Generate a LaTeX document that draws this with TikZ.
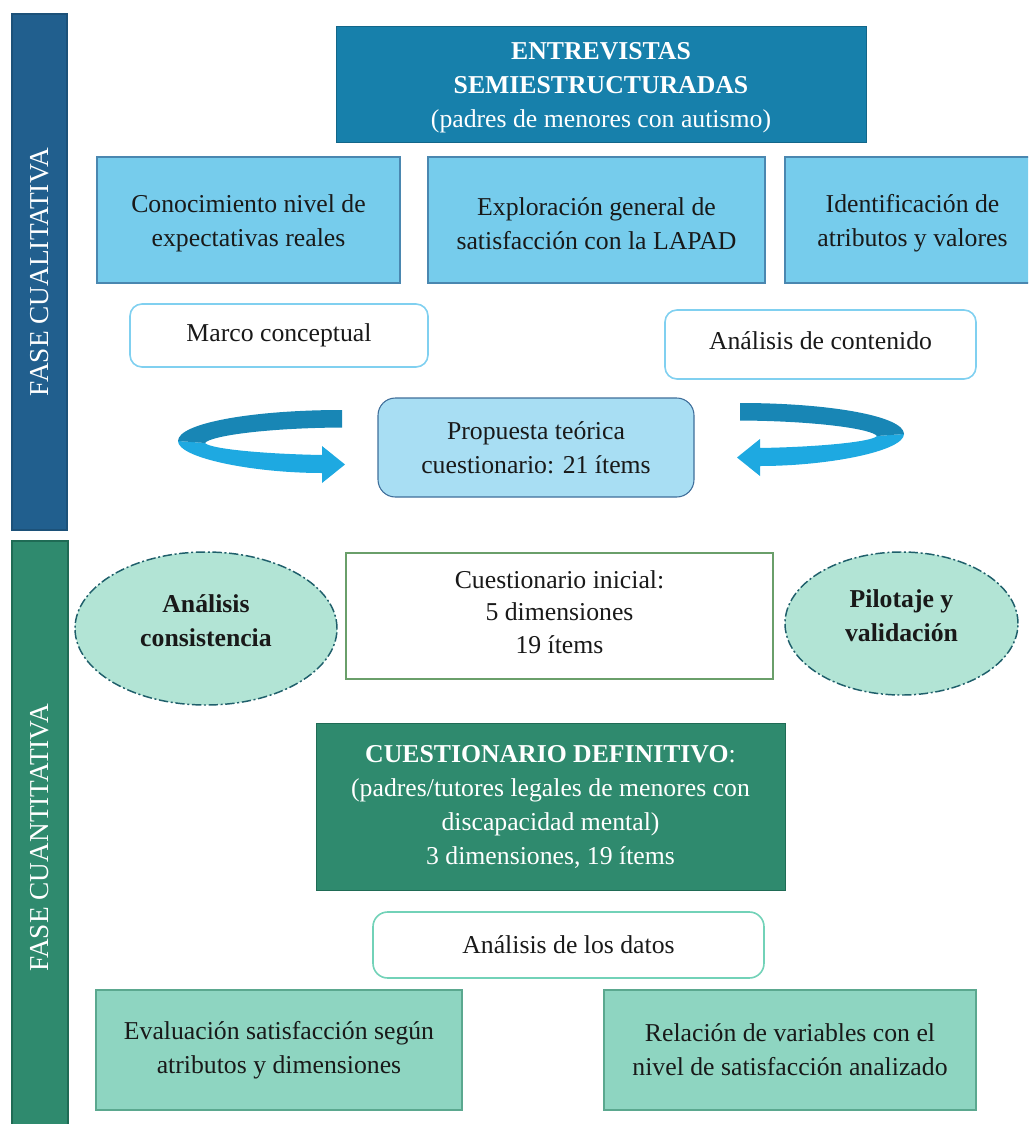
\documentclass[tikz,border=0pt]{standalone}
\usepackage{fontspec}
\setmainfont{Liberation Serif}
\usetikzlibrary{shapes.geometric}
\definecolor{barblue}{HTML}{215F8E}
\definecolor{topblue}{HTML}{1780AB}
\definecolor{skyfill}{HTML}{76CCEC}
\definecolor{skyline}{HTML}{4A87B0}
\definecolor{palefill}{HTML}{A8DEF3}
\definecolor{paleline}{HTML}{3F6E9A}
\definecolor{roundline}{HTML}{80D0F0}
\definecolor{bargreen}{HTML}{2F8A6E}
\definecolor{bargreenline}{HTML}{1F6B55}
\definecolor{mintfill}{HTML}{B2E4D5}
\definecolor{mintline}{HTML}{1F5F6B}
\definecolor{leafline}{HTML}{6A9F6A}
\definecolor{tealline}{HTML}{72D2B8}
\definecolor{seafill}{HTML}{8ED5C1}
\definecolor{sealine}{HTML}{5BA88F}
\definecolor{arrowdark}{HTML}{1886B5}
\definecolor{arrowlight}{HTML}{1EA9E1}
\newcommand\txtsize{\fontsize{19.3}{25.5}\selectfont}
\newcommand\barsize{\fontsize{20.5}{25}\selectfont}
% invisible struts that nudge a text block down (tall first line) or up (deep last line)
\newcommand\tallline[1]{\rule{0pt}{#1}}
\newcommand\deepline[1]{\rule[-#1]{0pt}{#1}}
\tikzset{
  sz/.style 2 args={minimum width=#1*0.75pt, minimum height=#2*0.75pt},
  base/.style={rectangle, inner sep=2pt, outer sep=0pt, align=center, font=\txtsize, text=black!90},
  phasebar/.style={base, line width=1pt, rotate=90},
  barlabel/.style={base, font=\barsize, text=white, rotate=90},
  headbox/.style={base, fill=topblue, draw=topblue!80!black, line width=0.6pt, text=white},
  skybox/.style={base, fill=skyfill, draw=skyline, line width=1pt},
  roundbox/.style={base, fill=white, draw=roundline, line width=1.2pt, rounded corners=9pt},
  propbox/.style={base, fill=palefill, draw=paleline, line width=0.8pt, rounded corners=13pt},
  bubble/.style={ellipse, inner sep=0pt, outer sep=0pt, align=center, font=\txtsize\bfseries, text=black!90,
    fill=mintfill, draw=mintline, line width=1.1pt, dash pattern=on 7pt off 2pt on 1.5pt off 2pt},
  plainbox/.style={base, fill=white, draw=leafline, line width=0.8pt},
  finalbox/.style={base, fill=bargreen, draw=bargreenline, line width=0.6pt, text=white},
  databox/.style={base, fill=white, draw=tealline, line width=1.2pt, rounded corners=11pt},
  seabox/.style={base, fill=seafill, draw=sealine, line width=1pt},
}
\begin{document}
\begin{tikzpicture}[x=0.75pt, y=-0.75pt]
\useasboundingbox (0,0) rectangle (1028,1124);
\begin{scope}
\clip (0,0) rectangle (1028,1124);

% phase bars
\node[phasebar, fill=barblue, draw=barblue!85!black, sz={516}{55}] (qual) at (39.5,272) {};
\node[barlabel] (quallabel) at (40,272) {FASE CUALITATIVA};
\node[phasebar, fill=bargreen, draw=bargreenline, sz={587}{56}] (quant) at (40,834.5) {};
\node[barlabel] (quantlabel) at (40,838) {FASE CUANTITATIVA};

% qualitative phase
\node[headbox, sz={530}{116}] (entrevistas) at (601,84)
  {\tallline{18.5pt}\textbf{ENTREVISTAS}\\\textbf{SEMIESTRUCTURADAS}\\(padres de menores con autismo)};
\node[skybox, sz={303}{126}] (conoc) at (248.5,220) {\tallline{19pt}Conocimiento nivel de\\expectativas reales};
\node[skybox, sz={337}{126}] (explor) at (596.5,220) {\tallline{19pt}Exploración general de\\satisfacción con la LAPAD};
\node[skybox, sz={255}{126}] (ident) at (912.5,220) {\tallline{19pt}Identificación de\\atributos y valores};
\node[roundbox, sz={298}{63}] (marco) at (279,335.5) {Marco conceptual};
\node[roundbox, sz={311}{69}] (contenido) at (820.5,344.5) {Análisis de contenido\deepline{6pt}};
\node[propbox, sz={316}{99}] (propuesta) at (536,447.5) {Propuesta teórica\\cuestionario: 21 ítems};

% ribbon arrows turning towards the proposal
\newcommand\ribbonarrow{%
  \fill[arrowlight] (-167,31) .. controls (-167,48) and (-92,63) .. (-23,63)
    -- (-23,73) -- (0,54.5) -- (-23,36) -- (-23,45)
    .. controls (-80,44) and (-135,39) .. (-140,33) -- cycle;
  \fill[arrowdark] (-3,0) .. controls (-92,0) and (-167,13) .. (-167,31)
    -- (-140,33) .. controls (-135,26) and (-80,18) .. (-3,17.5) -- cycle;}
\begin{scope}[shift={(345,410)}]
  \ribbonarrow
\end{scope}
\begin{scope}[shift={(737,403)}, xscale=-1]
  \ribbonarrow
\end{scope}

% quantitative phase
\node[bubble, sz={262}{153}] (consist) at (206,628.5) {Análisis\\consistencia\deepline{12pt}};
\node[plainbox, sz={427}{126}, font=\fontsize{19.3}{24.4}\selectfont] (inicial) at (559.5,616)
  {Cuestionario inicial:\\5 dimensiones\\19 ítems\deepline{6pt}};
\node[bubble, sz={233}{143}] (pilotaje) at (901.5,623.5) {Pilotaje y\\validación\deepline{12pt}};
\node[finalbox, sz={469}{167}] (definitivo) at (550.5,806.5)
  {\textbf{CUESTIONARIO DEFINITIVO}:\\(padres/tutores legales de menores con\\discapacidad mental)\\3 dimensiones, 19 ítems};
\node[databox, sz={391}{66}] (datos) at (568.5,945) {Análisis de los datos};
\node[seabox, sz={366}{120}] (evaluacion) at (279,1050) {Evaluación satisfacción según\\atributos y dimensiones};
\node[seabox, sz={372}{120}] (relacion) at (790,1050) {Relación de variables con el\\nivel de satisfacción analizado};
\end{scope}
\end{tikzpicture}
\end{document}
